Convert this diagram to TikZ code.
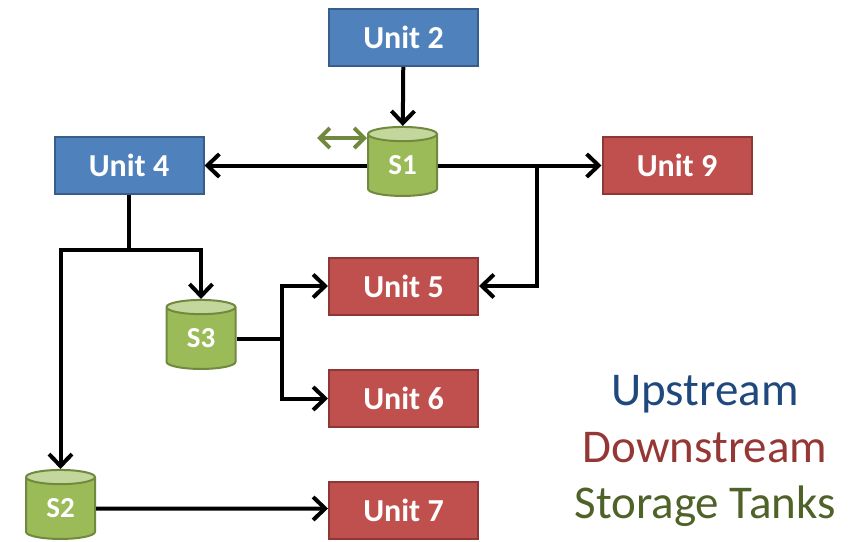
\documentclass[tikz,border=0pt]{standalone}
\usepackage{fontspec}
\setmainfont{Carlito}
\usetikzlibrary{shapes.geometric,arrows.meta}

\definecolor{upfill}{RGB}{79,129,189}
\definecolor{upline}{RGB}{56,93,138}
\definecolor{downfill}{RGB}{192,80,77}
\definecolor{downline}{RGB}{140,56,54}
\definecolor{tankfill}{RGB}{155,187,89}
\definecolor{tanktop}{RGB}{195,214,155}
\definecolor{tankline}{RGB}{113,137,63}
\definecolor{uptext}{RGB}{31,73,125}
\definecolor{downtext}{RGB}{149,55,53}
\definecolor{tanktext}{RGB}{79,98,40}

\tikzset{
  unit/.style={rectangle, minimum width=149pt, minimum height=57pt, line width=2pt,
    text=white, font=\fontsize{32}{36}\selectfont\bfseries, inner sep=0},
  upunit/.style={unit, fill=upfill, draw=upline},
  downunit/.style={unit, fill=downfill, draw=downline},
  tank/.style={cylinder, shape border rotate=90, aspect=0.5,
    minimum width=69pt, minimum height=69pt, inner sep=0,
    draw=tankline, line width=2pt,
    cylinder uses custom fill, cylinder body fill=tankfill, cylinder end fill=tanktop,
    text=white, font=\fontsize{29}{32}\selectfont\bfseries},
  flow/.style={line width=4pt, black, -{Straight Barb[length=12pt,width=23pt,line width=4pt]}},
  pipe/.style={line width=4pt, black},
  swap/.style={line width=4pt, tankline,
    {Straight Barb[length=10pt,width=20pt,line width=4pt]}-{Straight Barb[length=10pt,width=20pt,line width=4pt]}},
  legend/.style={anchor=base, font=\fontsize{47}{52}\selectfont}
}

\begin{document}
\begin{tikzpicture}[x=1pt,y=-1pt]
\useasboundingbox (0,0) rectangle (862,541);

% process units
\node[upunit]   (u2) at (403.5,37.5)  {Unit 2};
\node[upunit]   (u4) at (129,165.5)   {Unit 4};
\node[downunit] (u9) at (677,165.5)   {Unit 9};
\node[downunit] (u5) at (403.5,286)   {Unit 5};
\node[downunit] (u6) at (403.5,398.5) {Unit 6};
\node[downunit] (u7) at (403.5,510.5) {Unit 7};

% storage tanks
\node[tank] (s1) at (402.5,165.5) {S1};
\node[tank] (s3) at (201,338.5)   {S3};
\node[tank] (s2) at (60.5,508.5)  {S2};

% junction points
\coordinate (j1) at (537,165.5);
\coordinate (j2) at (129,250);
\coordinate (j3) at (282,338.5);
\coordinate (g)  at (317,138);

% flows
\draw[flow] (u2) -- (s1);
\draw[flow] (s1) -- (u4);
\draw[flow] (s1) -- (u9);
\draw[flow] (j1) |- (u5);
\draw[pipe] (u4) -- (j2);
\draw[flow] (j2) -| (s3);
\draw[flow] (j2) -| (s2);
\draw[pipe] (s3) -- (j3);
\draw[flow] (j3) |- (u5);
\draw[flow] (j3) |- (u6);
\draw[flow] (s2) -- (s2 -| u7.west);
\draw[swap] (g) -- (g -| s1.west);

% legend
\node[legend, text=uptext]   (l1) at (705,405) {Upstream};
\node[legend, text=downtext] (l2) at (705,462) {Downstream};
\node[legend, text=tanktext] (l3) at (705,518) {Storage Tanks};
\end{tikzpicture}
\end{document}
